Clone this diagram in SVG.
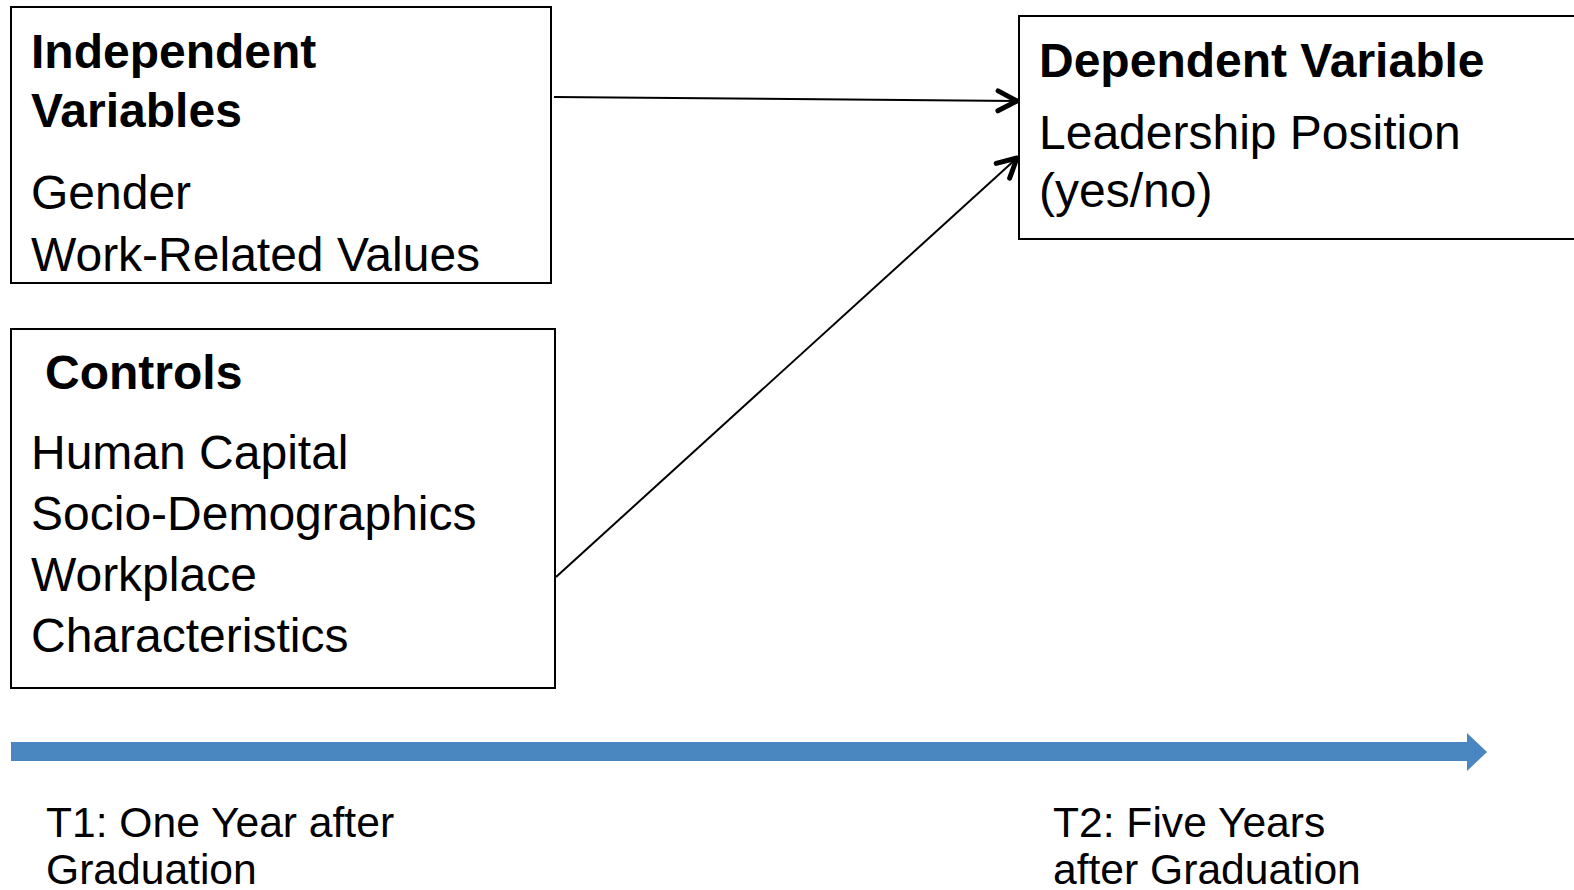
<svg xmlns="http://www.w3.org/2000/svg" width="1574" height="890" viewBox="0 0 1574 890">
<style>
.box{fill:#fff;stroke:#000;stroke-width:2}
.t{font-family:"Liberation Sans",Arial,sans-serif;font-size:48px;fill:#000}
.b{font-weight:bold}
.s{font-family:"Liberation Sans",Arial,sans-serif;font-size:42.6px;fill:#000}
.c{stroke:#000;stroke-width:2;fill:none}
</style>
<defs>
<marker id="ah" markerWidth="28" markerHeight="28" refX="23" refY="13" orient="auto" markerUnits="userSpaceOnUse">
<path d="M4,3 L23,13 L4,23" fill="none" stroke="#000" stroke-width="5" stroke-linecap="round" stroke-linejoin="round"/>
</marker>
</defs>
<rect width="1574" height="890" fill="#fff"/>
<g id="independent">
<rect class="box" x="11" y="7" width="540" height="276"/>
<text class="t b" x="31" y="68">Independent</text>
<text class="t b" x="31" y="127">Variables</text>
<text class="t" x="31" y="209">Gender</text>
<text class="t" x="31" y="271">Work-Related Values</text>
</g>
<g id="controls">
<rect class="box" x="11" y="329" width="544" height="359"/>
<text class="t b" x="45" y="389">Controls</text>
<text class="t" x="31" y="469">Human Capital</text>
<text class="t" x="31" y="530">Socio-Demographics</text>
<text class="t" x="31" y="591">Workplace</text>
<text class="t" x="31" y="652">Characteristics</text>
</g>
<g id="dependent">
<rect class="box" x="1019" y="16" width="570" height="223"/>
<text class="t b" x="1039" y="77">Dependent Variable</text>
<text class="t" x="1039" y="149">Leadership Position</text>
<text class="t" x="1039" y="207">(yes/no)</text>
</g>
<g id="connectors">
<line class="c" x1="554" y1="97" x2="1017" y2="101" marker-end="url(#ah)"/>
<line class="c" x1="556" y1="577" x2="1017" y2="158" marker-end="url(#ah)"/>
</g>
<g id="timeline">
<path d="M11,742 L1467,742 L1467,733 L1487,752 L1467,771 L1467,761 L11,761 Z" fill="#4A86C0"/>
<text class="s" x="46" y="837">T1: One Year after</text>
<text class="s" x="46" y="884">Graduation</text>
<text class="s" x="1053" y="837">T2: Five Years</text>
<text class="s" x="1053" y="884">after Graduation</text>
</g>
</svg>
